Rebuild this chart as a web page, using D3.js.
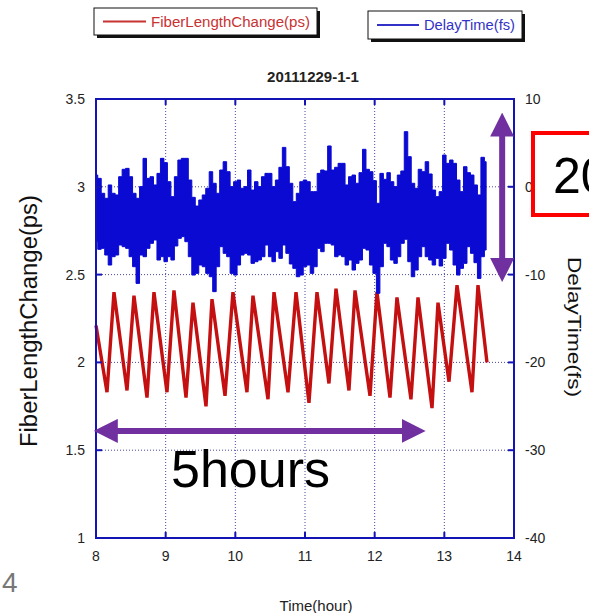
<!DOCTYPE html>
<html>
<head>
<meta charset="utf-8">
<script src="https://cdnjs.cloudflare.com/ajax/libs/d3/7.8.5/d3.min.js"></script>
<style>
  body { margin: 0; background: #fff; }
  svg { font-family: "Liberation Sans", Arial, sans-serif; }
</style>
</head>
<body>
<svg id="chart" width="589" height="613"></svg>
<script>
// time axis (hours)
var xTicks = [8, 9, 10, 11, 12, 13, 14];
var leftTicks = [1, 1.5, 2, 2.5, 3, 3.5];
var rightTicks = [-40, -30, -20, -10, 0, 10];

// FiberLengthChange(ps): turning points
var redTime = [8.000, 8.158, 8.258, 8.445, 8.545, 8.732, 8.832, 9.019, 9.119, 9.292,
	9.392, 9.579, 9.665, 9.852, 9.966, 10.167, 10.253, 10.469, 10.555, 10.756,
	10.871, 11.057, 11.172, 11.344, 11.445, 11.631, 11.718, 11.933, 12.033, 12.220,
	12.320, 12.521, 12.622, 12.823, 12.909, 13.067, 13.182, 13.397, 13.483, 13.612];
var redValue = [2.21, 1.83, 2.40, 1.84, 2.38, 1.80, 2.40, 1.83, 2.41, 1.80,
	2.34, 1.75, 2.36, 1.81, 2.40, 1.83, 2.38, 1.79, 2.40, 1.83,
	2.40, 1.77, 2.40, 1.88, 2.42, 1.84, 2.41, 1.81, 2.40, 1.80,
	2.37, 1.79, 2.37, 1.74, 2.34, 1.89, 2.44, 1.83, 2.44, 2.00];

// DelayTime(fs): upper / lower edge of the trace every 0.05 h from 8.00 h
var blueStart = 8.0, blueStep = 0.05;
var blueHigh = [1.34, 0.96, -0.74, -1.31, 0.21, -0.74, -0.93, 1.15, 1.99, 2.10,
	1.15, -0.74, -1.31, 0.02, 3.24, 0.96, 1.15, 0.21, 1.53, 3.24,
	2.75, 0.58, -1.12, 1.15, 3.05, 3.24, 3.24, 0.77, -1.20, -2.19,
	-1.50, -0.93, -0.17, 1.72, 0.40, -0.74, 1.91, 2.86,
	1.72, 0.02, 0.58, 0.77, -0.17, 0.02, 1.91, -0.37, 0.58, 0.02,
	1.15, 1.53, 1.53, 0.02, 0.77, 2.22, 4.49, 2.29, 0.40, -1.69,
	-0.74, 0.58, 0.77, 0.58, -0.55, -0.55, 1.53, 1.91, 1.80, 4.65,
	1.91, 2.22, 2.67, 2.67, 0.21, 1.15, 1.34, 0.40,
	1.61, 4.27, 1.99, 1.72, 0.70, -1.88, 1.53, 0.85, 1.61, 0.58,
	0.02, 1.34, 1.80, 6.28, 3.43, 0.40, -0.17, 1.99, 1.72, 2.86,
	1.46, -0.37, -1.12, -0.55, 3.62, 2.67, 3.05, 2.67, 0.77, -0.55,
	2.29, 1.61, 1.34, 0.21, -0.93, 3.36, 2.86];
var blueLow = [-6.25, -7.12, -7.01, -7.77, -8.91, -7.96, -7.77, -6.63, -6.82, -7.01,
	-7.96, -9.10, -11.0, -7.77, -7.96, -7.01, -6.44, -6.06, -8.34, -7.96,
	-8.53, -7.96, -8.34, -6.74, -5.87, -5.68, -6.25, -7.96, -10.05, -9.86,
	-8.91, -9.10, -9.86, -10.24, -11.94, -9.10, -6.82, -7.58,
	-7.96, -9.86, -10.05, -8.91, -7.77, -7.58, -7.77, -8.72, -8.53, -8.34,
	-7.96, -6.63, -7.96, -8.53, -7.39, -8.15, -6.63, -7.58, -8.79, -9.29,
	-10.24, -10.05, -9.10, -8.91, -9.86, -9.10, -7.01, -7.39, -6.44, -6.44,
	-6.63, -7.96, -7.77, -7.96, -8.91, -8.34, -9.48, -8.72,
	-8.34, -7.01, -7.20, -8.91, -9.86, -12.13, -9.10, -6.44, -6.82, -8.34,
	-8.72, -7.96, -6.44, -5.98, -8.53, -10.24, -9.48, -7.96, -6.82, -7.96,
	-8.34, -8.91, -8.15, -9.02, -8.15, -6.44, -7.20, -8.91, -10.05, -9.29,
	-8.72, -6.82, -7.58, -8.64, -10.43, -7.96, -7.20];

var margin = {top: 99, left: 96, right: 75, bottom: 75},
	width = 589 - margin.left - margin.right,
	height = 613 - margin.top - margin.bottom;

var svg = d3.select("#chart");
var g = svg.append("g")
	.attr("transform", "translate(" + margin.left + "," + margin.top + ")");

var x = d3.scaleLinear().domain([8, 14]).range([0, width]);
var yL = d3.scaleLinear().domain([1, 3.5]).range([height, 0]);
var yR = d3.scaleLinear().domain([-40, 10]).range([height, 0]);

var frameColor = "#1414b4";
var red = "#c41010";
var blue = "#0a0ad2";
var purple = "#7030a0";

// dotted grid
g.selectAll(".vgrid")
	.data(xTicks.slice(1, -1))
	.enter().append("line")
	.attr("x1", d => x(d)).attr("x2", d => x(d))
	.attr("y1", 0).attr("y2", height)
	.attr("stroke", "#4848a0").attr("stroke-width", 1)
	.attr("stroke-dasharray", "1,2");
g.selectAll(".hgrid")
	.data(leftTicks.slice(1, -1))
	.enter().append("line")
	.attr("x1", 0).attr("x2", width)
	.attr("y1", d => yL(d)).attr("y2", d => yL(d))
	.attr("stroke", "#4848a0").attr("stroke-width", 1)
	.attr("stroke-dasharray", "1,2");

// red trace
var redData = redTime.map((t, i) => ({t: t, v: redValue[i]}));
g.append("path")
	.datum(redData)
	.attr("fill", "none")
	.attr("stroke", red)
	.attr("stroke-width", 3.4)
	.attr("stroke-linejoin", "miter")
	.attr("d", d3.line().x(d => x(d.t)).y(d => yL(d.v)));

// blue trace
var blueData = blueHigh.map((h, i) => ({t: blueStart + i * blueStep, hi: h, lo: blueLow[i]}));
g.append("path")
	.datum(blueData)
	.attr("fill", blue)
	.attr("stroke", blue)
	.attr("stroke-width", 1)
	.attr("d", d3.area().curve(d3.curveStep)
		.x(d => x(d.t)).y0(d => yR(d.lo)).y1(d => yR(d.hi)));

// frame
g.append("rect")
	.attr("width", width).attr("height", height)
	.attr("fill", "none").attr("stroke", frameColor).attr("stroke-width", 2);

// inward ticks
var tl = 6;
g.selectAll(".tb").data(xTicks).enter().append("line")
	.attr("x1", d => x(d)).attr("x2", d => x(d))
	.attr("y1", height).attr("y2", height - tl)
	.attr("stroke", frameColor).attr("stroke-width", 2);
g.selectAll(".tt").data(xTicks).enter().append("line")
	.attr("x1", d => x(d)).attr("x2", d => x(d))
	.attr("y1", 0).attr("y2", tl)
	.attr("stroke", frameColor).attr("stroke-width", 2);
g.selectAll(".tlft").data(leftTicks).enter().append("line")
	.attr("x1", 0).attr("x2", tl)
	.attr("y1", d => yL(d)).attr("y2", d => yL(d))
	.attr("stroke", frameColor).attr("stroke-width", 2);
g.selectAll(".trgt").data(rightTicks).enter().append("line")
	.attr("x1", width).attr("x2", width - tl)
	.attr("y1", d => yR(d)).attr("y2", d => yR(d))
	.attr("stroke", frameColor).attr("stroke-width", 2);

// tick labels
g.selectAll(".xl").data(xTicks).enter().append("text")
	.attr("x", d => x(d)).attr("y", height + 23)
	.attr("text-anchor", "middle").attr("font-size", 14).attr("fill", "#222")
	.text(d => d);
g.selectAll(".ll").data(leftTicks).enter().append("text")
	.attr("x", -11).attr("y", d => yL(d) + 5)
	.attr("text-anchor", "end").attr("font-size", 14).attr("fill", "#222")
	.text(d => d);
g.selectAll(".rl").data(rightTicks).enter().append("text")
	.attr("x", width + 11).attr("y", d => yR(d) + 5)
	.attr("text-anchor", "start").attr("font-size", 14).attr("fill", "#222")
	.text(d => d);

// axis titles
svg.append("text")
	.attr("transform", "translate(37," + 321 + ") rotate(-90)")
	.attr("text-anchor", "middle").attr("font-size", 23).attr("fill", "#111")
	.attr("textLength", 252).attr("lengthAdjust", "spacingAndGlyphs")
	.text("FiberLengthChange(ps)");
svg.append("text")
	.attr("transform", "translate(568," + 327 + ") rotate(90)")
	.attr("text-anchor", "middle").attr("font-size", 19).attr("fill", "#111")
	.attr("textLength", 140).attr("lengthAdjust", "spacingAndGlyphs")
	.text("DelayTime(fs)");
svg.append("text")
	.attr("x", 316).attr("y", 611)
	.attr("text-anchor", "middle").attr("font-size", 15).attr("fill", "#222")
	.text("Time(hour)");
svg.append("text")
	.attr("x", 313).attr("y", 82)
	.attr("text-anchor", "middle").attr("font-size", 15).attr("font-weight", "bold").attr("fill", "#222")
	.text("20111229-1-1");

// legend boxes
function legendBox(bx, by, bw, bh, color, label, lineLen, textW) {
	svg.append("rect").attr("x", bx + 3).attr("y", by + 3).attr("width", bw).attr("height", bh).attr("fill", "#111");
	svg.append("rect").attr("x", bx).attr("y", by).attr("width", bw).attr("height", bh)
		.attr("fill", "#fff").attr("stroke", "#111").attr("stroke-width", 1);
	svg.append("line").attr("x1", bx + 9).attr("x2", bx + 9 + lineLen)
		.attr("y1", by + bh / 2).attr("y2", by + bh / 2)
		.attr("stroke", color).attr("stroke-width", 2);
	svg.append("text").attr("x", bx + 14 + lineLen).attr("y", by + bh / 2 + 5)
		.attr("font-size", 14).attr("fill", color)
		.attr("textLength", textW).attr("lengthAdjust", "spacingAndGlyphs")
		.text(label);
}
legendBox(94, 8, 223, 27, "#c83232", "FiberLengthChange(ps)", 43, 159);
legendBox(368, 11, 154, 28, "#3232c8", "DelayTime(fs)", 42, 91);

// annotations
var defs = svg.append("defs");
defs.append("marker").attr("id", "ah")
	.attr("viewBox", "0 0 10 10").attr("refX", 2).attr("refY", 5)
	.attr("markerWidth", 4).attr("markerHeight", 4)
	.attr("markerUnits", "strokeWidth")
	.attr("orient", "auto-start-reverse")
	.append("path").attr("d", "M0,0 L10,5 L0,10 Z").attr("fill", purple);

g.append("line")
	.attr("x1", x(8.0) + 17).attr("x2", x(12.7) - 17)
	.attr("y1", yL(1.61)).attr("y2", yL(1.61))
	.attr("stroke", purple).attr("stroke-width", 6)
	.attr("marker-start", "url(#ah)").attr("marker-end", "url(#ah)");
g.append("line")
	.attr("x1", x(13.83)).attr("x2", x(13.83))
	.attr("y1", yR(8.2) + 17).attr("y2", yR(-10.6) - 17)
	.attr("stroke", purple).attr("stroke-width", 6)
	.attr("marker-start", "url(#ah)").attr("marker-end", "url(#ah)");

svg.append("text")
	.attr("x", 171).attr("y", 487)
	.attr("font-size", 52).attr("fill", "#000")
	.text("5hours");

svg.append("rect")
	.attr("x", 533).attr("y", 133).attr("width", 70).attr("height", 82)
	.attr("fill", "#fff").attr("stroke", "#f00").attr("stroke-width", 4);
svg.append("text")
	.attr("x", 553).attr("y", 193)
	.attr("font-size", 50).attr("fill", "#000")
	.text("20");

svg.append("text")
	.attr("x", 2).attr("y", 592)
	.attr("font-size", 28).attr("fill", "#777")
	.text("4");
</script>
</body>
</html>
